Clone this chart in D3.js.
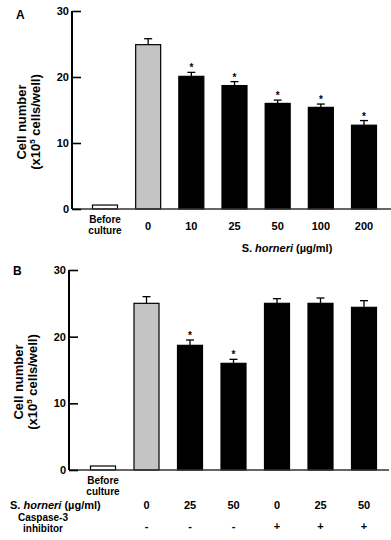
<!DOCTYPE html>
<html>
<head>
<meta charset="utf-8">
<script src="https://cdn.jsdelivr.net/npm/d3@7"></script>
<style>
  body { margin: 0; background: #fff; }
  svg { font-family: "Liberation Sans", Arial, sans-serif; font-weight: bold; }
</style>
</head>
<body>
<svg id="chart" width="391" height="540"></svg>
<script>
// panel A
const catsA = ["Before culture", "0", "10", "25", "50", "100", "200"]
const meanA = [0.6, 24.9, 20.1, 18.7, 16.0, 15.4, 12.7]
const errA = [0, 0.9, 0.6, 0.6, 0.5, 0.5, 0.7]
const sigA = [false, false, true, true, true, true, true]

// panel B
const catsB = ["before", "0-", "25-", "50-", "0+", "25+", "50+"]
const doseB = ["", "0", "25", "50", "0", "25", "50"]
const inhibB = ["", "-", "-", "-", "+", "+", "+"]
const meanB = [0.6, 25.0, 18.7, 16.0, 25.0, 25.0, 24.4]
const errB = [0, 1.0, 0.8, 0.6, 0.7, 0.8, 1.0]
const sigB = [false, false, true, true, false, false, false]

const yTicks = [0, 10, 20, 30]
const fills = ["#fff", "#c4c4c4", "#000", "#000", "#000", "#000", "#000"]

const svg = d3.select("#chart")

function panel(cfg) {
    const x = d3.scalePoint().domain(cfg.cats).range(cfg.xr)
    const y = d3.scaleLinear().domain([0, 30]).range(cfg.yr)
    const g = svg.append("g")
    const bw = 25

    // bars
    g.selectAll("rect.bar").data(cfg.means).join("rect")
        .attr("class", "bar")
        .attr("x", (d, i) => x(cfg.cats[i]) - bw / 2)
        .attr("y", d => y(d))
        .attr("width", bw)
        .attr("height", d => y(0) - y(d))
        .attr("fill", (d, i) => fills[i])
        .attr("stroke", "#000")
        .attr("stroke-width", 1.2)

    // error bars
    cfg.means.forEach((m, i) => {
        if (!cfg.errs[i]) return
        const cx = x(cfg.cats[i])
        const top = y(m + cfg.errs[i])
        g.append("line").attr("x1", cx).attr("x2", cx)
            .attr("y1", y(m)).attr("y2", top)
            .attr("stroke", "#000").attr("stroke-width", 1.3)
        g.append("line").attr("x1", cx - 4).attr("x2", cx + 4)
            .attr("y1", top).attr("y2", top)
            .attr("stroke", "#000").attr("stroke-width", 1.3)
        if (cfg.sig[i]) {
            g.append("text").attr("x", cx).attr("y", top - 1)
                .attr("text-anchor", "middle")
                .attr("font-size", 10)
                .text("*")
        }
    })

    // x axis line
    g.append("line")
        .attr("x1", cfg.axisX).attr("x2", cfg.xEnd)
        .attr("y1", y(0)).attr("y2", y(0))
        .attr("stroke", "#333").attr("stroke-width", 1.6)

    // y axis
    const yAxis = g.append("g")
        .attr("transform", `translate(${cfg.axisX},0)`)
        .call(d3.axisRight(y).tickValues(yTicks).tickSize(9).tickFormat(""))
    yAxis.select(".domain").remove()
    yAxis.selectAll(".tick line").attr("stroke-width", 1.6)
    g.append("line")
        .attr("x1", cfg.axisX).attr("x2", cfg.axisX)
        .attr("y1", y(30)).attr("y2", y(0))
        .attr("stroke", "#000").attr("stroke-width", 2)
    g.selectAll("text.ytick").data(yTicks).join("text")
        .attr("class", "ytick")
        .attr("x", cfg.axisX - 3)
        .attr("y", d => y(d) + 4)
        .attr("text-anchor", "end")
        .attr("font-size", 11)
        .text(d => d)

    // y title
    const ty = (cfg.yr[0] + cfg.yr[1]) / 2 + 12
    g.append("text")
        .attr("transform", `translate(${cfg.titleX},${ty}) rotate(-90)`)
        .attr("text-anchor", "middle").attr("font-size", 13)
        .text("Cell number")
    const t2 = g.append("text")
        .attr("transform", `translate(${cfg.titleX + 14},${ty}) rotate(-90)`)
        .attr("text-anchor", "middle").attr("font-size", 13)
    t2.append("tspan").text("(x10")
    t2.append("tspan").attr("font-size", 8).attr("dy", -5).text("5")
    t2.append("tspan").attr("dy", 5).text(" cells/well)")

    // panel letter
    g.append("text").attr("x", cfg.letterX).attr("y", cfg.letterY)
        .attr("font-size", 12).text(cfg.letter)

    // before culture label
    const bx = x(cfg.cats[0])
    g.append("text").attr("x", bx).attr("y", y(0) + 14)
        .attr("text-anchor", "middle").attr("font-size", 10).text("Before")
    g.append("text").attr("x", bx).attr("y", y(0) + 25)
        .attr("text-anchor", "middle").attr("font-size", 10).text("culture")

    return { x, y, g }
}

// ---- panel A
const A = panel({
    cats: catsA, means: meanA, errs: errA, sig: sigA,
    xr: [105, 364], yr: [209, 11], axisX: 72, xEnd: 391,
    titleX: 26, letter: "A", letterX: 16, letterY: 19
})
A.g.selectAll("text.xlab").data(catsA.slice(1)).join("text")
    .attr("class", "xlab")
    .attr("x", d => A.x(d))
    .attr("y", 230)
    .attr("text-anchor", "middle")
    .attr("font-size", 11)
    .text(d => d)
const xtA = A.g.append("text").attr("x", 287).attr("y", 252)
    .attr("text-anchor", "middle").attr("font-size", 11)
xtA.append("tspan").text("S. ")
xtA.append("tspan").attr("font-style", "italic").text("horneri")
xtA.append("tspan").text(" (\u00b5g/ml)")

// ---- panel B
const B = panel({
    cats: catsB, means: meanB, errs: errB, sig: sigB,
    xr: [103, 364], yr: [470, 270], axisX: 69, xEnd: 389,
    titleX: 23, letter: "B", letterX: 13, letterY: 275
})
B.g.selectAll("text.dose").data(doseB).join("text")
    .attr("class", "dose")
    .attr("x", (d, i) => B.x(catsB[i]))
    .attr("y", 509)
    .attr("text-anchor", "middle")
    .attr("font-size", 11)
    .text(d => d)
B.g.selectAll("text.inhib").data(inhibB).join("text")
    .attr("class", "inhib")
    .attr("x", (d, i) => B.x(catsB[i]))
    .attr("y", 530)
    .attr("text-anchor", "middle")
    .attr("font-size", 11)
    .text(d => d)
const xtB = B.g.append("text").attr("x", 10).attr("y", 509)
    .attr("font-size", 11)
xtB.append("tspan").text("S. ")
xtB.append("tspan").attr("font-style", "italic").text("horneri")
xtB.append("tspan").text(" (\u00b5g/ml)")
B.g.append("text").attr("x", 43).attr("y", 521)
    .attr("text-anchor", "middle").attr("font-size", 10).text("Caspase-3")
B.g.append("text").attr("x", 43).attr("y", 532)
    .attr("text-anchor", "middle").attr("font-size", 10).text("inhibitor")
</script>
</body>
</html>
